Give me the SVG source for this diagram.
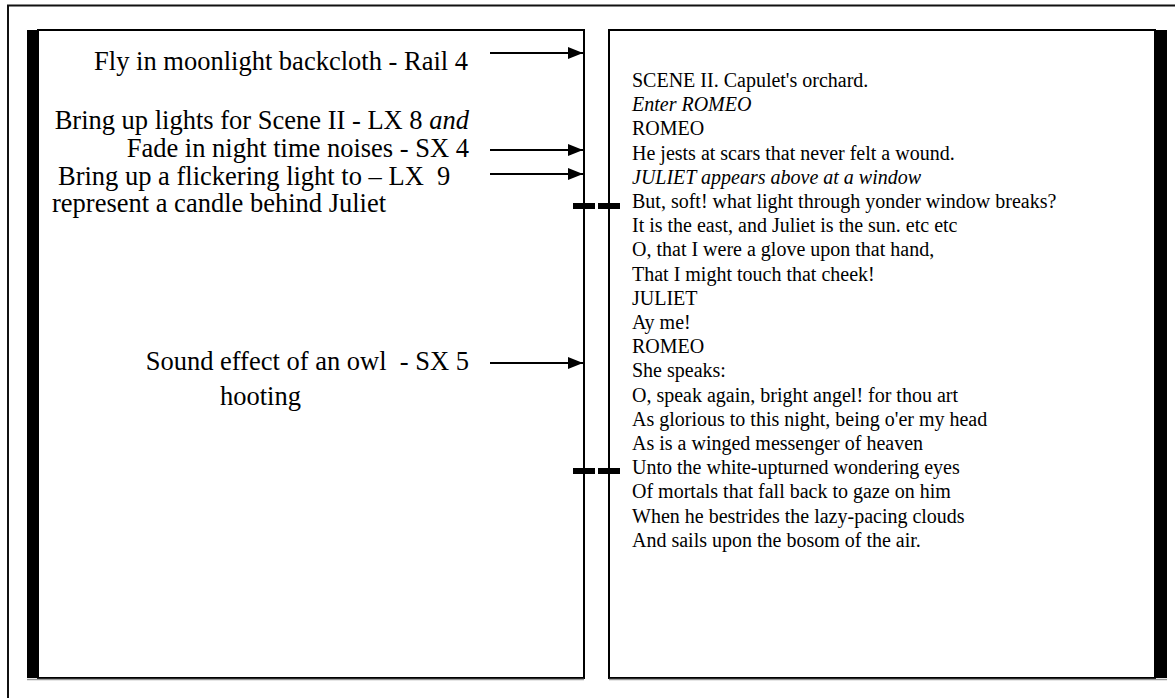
<svg xmlns="http://www.w3.org/2000/svg" width="1175" height="698" viewBox="0 0 1175 698">
<style>
.cue{font-family:"Liberation Serif","Times New Roman",serif;font-size:26.5px;fill:#000;white-space:pre}
.play{font-family:"Liberation Serif","Times New Roman",serif;font-size:20px;fill:#000;white-space:pre}
.it{font-style:italic}
.page{fill:#fff;stroke:#000;stroke-width:2}
.bar{fill:#000}
.shade{stroke:#9a9a9a;stroke-width:1.5}
.arrow{stroke:#000;stroke-width:2.2;fill:none}
.dash{stroke:#000;stroke-width:6}
</style>
<defs>
<marker id="ah" markerUnits="userSpaceOnUse" markerWidth="16" markerHeight="14" refX="15" refY="7" orient="auto">
<path d="M0,1 L15,7 L0,13 Z" fill="#000"/>
</marker>
</defs>
<rect width="1175" height="698" fill="#fff"/>
<g id="frame">
<path d="M8,698 V5.5 H1175" fill="none" stroke="#111" stroke-width="2"/>
</g>
<g id="page-left">
<rect class="page" x="38" y="30" width="546" height="648"/>
<rect class="bar" x="27" y="30" width="11" height="648"/>
<line class="shade" x1="27" y1="679.5" x2="584" y2="679.5"/>
</g>
<g id="page-right">
<rect class="page" x="609" y="30" width="546" height="648"/>
<rect class="bar" x="1155" y="30" width="12" height="648"/>
<line class="shade" x1="609" y1="679.5" x2="1167" y2="679.5"/>
</g>
<g id="cue-fly">
<text class="cue" x="468" y="70" text-anchor="end">Fly in moonlight backcloth - Rail 4</text>
</g>
<g id="cue-lights">
<text class="cue" x="469" y="129" text-anchor="end">Bring up lights for Scene II - LX 8 <tspan class="it">and</tspan></text>
<text class="cue" x="469" y="157" text-anchor="end">Fade in night time noises - SX 4</text>
</g>
<g id="cue-candle">
<text class="cue" x="58" y="185">Bring up a flickering light to – LX  9</text>
<text class="cue" x="52" y="212">represent a candle behind Juliet</text>
</g>
<g id="cue-owl">
<text class="cue" x="469" y="370" text-anchor="end">Sound effect of an owl  - SX 5</text>
<text class="cue" x="220" y="405">hooting</text>
</g>
<g id="script">
<text class="play" x="632" y="87">SCENE II. Capulet's orchard.</text>
<text class="play it" x="632" y="111.2">Enter ROMEO</text>
<text class="play" x="632" y="135.4">ROMEO</text>
<text class="play" x="632" y="159.6">He jests at scars that never felt a wound.</text>
<text class="play it" x="632" y="183.8">JULIET appears above at a window</text>
<text class="play" x="632" y="208">But, soft! what light through yonder window breaks?</text>
<text class="play" x="632" y="232.2">It is the east, and Juliet is the sun. etc etc</text>
<text class="play" x="632" y="256.4">O, that I were a glove upon that hand,</text>
<text class="play" x="632" y="280.6">That I might touch that cheek!</text>
<text class="play" x="632" y="304.8">JULIET</text>
<text class="play" x="632" y="329">Ay me!</text>
<text class="play" x="632" y="353.2">ROMEO</text>
<text class="play" x="632" y="377.4">She speaks:</text>
<text class="play" x="632" y="401.6">O, speak again, bright angel! for thou art</text>
<text class="play" x="632" y="425.8">As glorious to this night, being o'er my head</text>
<text class="play" x="632" y="450">As is a winged messenger of heaven</text>
<text class="play" x="632" y="474.2">Unto the white-upturned wondering eyes</text>
<text class="play" x="632" y="498.4">Of mortals that fall back to gaze on him</text>
<text class="play" x="632" y="522.6">When he bestrides the lazy-pacing clouds</text>
<text class="play" x="632" y="546.8">And sails upon the bosom of the air.</text>
</g>
<g id="connectors">
<line class="arrow" x1="490" y1="53" x2="583" y2="53" marker-end="url(#ah)"/>
<line class="arrow" x1="490" y1="150" x2="583" y2="150" marker-end="url(#ah)"/>
<line class="arrow" x1="490" y1="174" x2="583" y2="174" marker-end="url(#ah)"/>
<line class="arrow" x1="490" y1="363" x2="583" y2="363" marker-end="url(#ah)"/>
<line class="dash" x1="573" y1="206" x2="595" y2="206"/>
<line class="dash" x1="598" y1="206" x2="620" y2="206"/>
<line class="dash" x1="573" y1="471" x2="595" y2="471"/>
<line class="dash" x1="598" y1="471" x2="620" y2="471"/>
</g>
</svg>
